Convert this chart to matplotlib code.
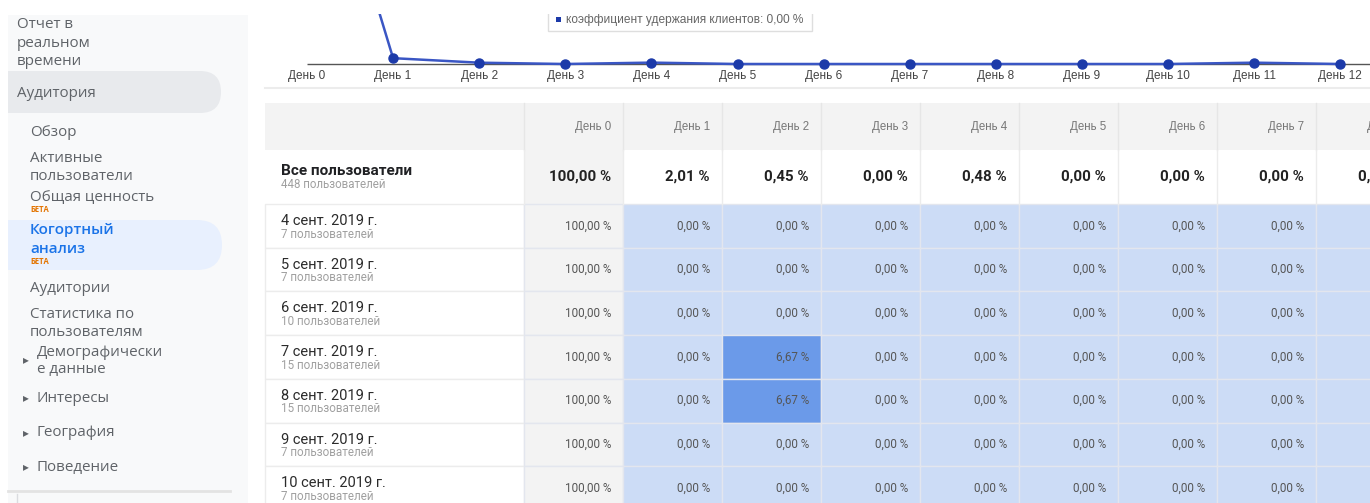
import matplotlib
matplotlib.use("Agg")
import matplotlib.pyplot as plt
from matplotlib.patches import Rectangle, FancyBboxPatch

# ---------------------------
# Data
# ---------------------------
days = list(range(13))
day_labels = ["День 0", "День 1", "День 2", "День 3", "День 4", "День 5", "День 6",
              "День 7", "День 8", "День 9", "День 10", "День 11", "День 12"]
retention_all = [100.00, 2.01, 0.45, 0.00, 0.48, 0.00, 0.00, 0.00, 0.00, 0.00, 0.00, 0.46, 0.00]

legend_label = "коэффициент удержания клиентов"
legend_value = 0.00

table_days = day_labels[:9]
total_label = "Все пользователи"
total_users = 448
total_row = [100.00, 2.01, 0.45, 0.00, 0.48, 0.00, 0.00, 0.00, 0.00]

cohort_dates = ["4 сент. 2019 г.", "5 сент. 2019 г.", "6 сент. 2019 г.", "7 сент. 2019 г.",
                "8 сент. 2019 г.", "9 сент. 2019 г.", "10 сент. 2019 г."]
cohort_users = [7, 7, 10, 15, 15, 7, 7]
cohort_values = [
    [100.00, 0.00, 0.00, 0.00, 0.00, 0.00, 0.00, 0.00, 0.00],
    [100.00, 0.00, 0.00, 0.00, 0.00, 0.00, 0.00, 0.00, 0.00],
    [100.00, 0.00, 0.00, 0.00, 0.00, 0.00, 0.00, 0.00, 0.00],
    [100.00, 0.00, 6.67, 0.00, 0.00, 0.00, 0.00, 0.00, 0.00],
    [100.00, 0.00, 6.67, 0.00, 0.00, 0.00, 0.00, 0.00, 0.00],
    [100.00, 0.00, 0.00, 0.00, 0.00, 0.00, 0.00, 0.00, 0.00],
    [100.00, 0.00, 0.00, 0.00, 0.00, 0.00, 0.00, 0.00, 0.00],
]


def pct(v):
    return f"{v:.2f}".replace(".", ",") + " %"


# ---------------------------
# Figure (pixel coordinates)
# ---------------------------
W, H = 1370, 503
fig = plt.figure(figsize=(W / 100, H / 100), dpi=100)
ax = fig.add_axes([0, 0, 1, 1])
ax.set_xlim(0, W)
ax.set_ylim(H, 0)
ax.axis("off")

SANS = ["Roboto", "DejaVu Sans"]
SIDE = ["Open Sans", "DejaVu Sans"]
grey_txt = "#5f6368"

# ---- sidebar ----
ax.add_patch(Rectangle((8, 15), 240, H - 15, fc="#f8f9fa", ec="none"))
ax.add_patch(FancyBboxPatch((-40, 71), 261, 42, boxstyle="round,pad=0,rounding_size=21",
                            fc="#e8eaed", ec="none"))
ax.add_patch(FancyBboxPatch((-40, 220), 262, 50, boxstyle="round,pad=0,rounding_size=25",
                            fc="#e8f0fe", ec="none"))
ax.add_patch(Rectangle((0, 0), 8, H, fc="white", ec="none", zorder=2))
ax.plot([8, 230], [491, 491], color="#e3e3e3", lw=2)
ax.plot([17, 17], [494, H], color="#dadce0", lw=1)

def side(x, y, s, color=grey_txt, size=10.9, weight="normal"):
    ax.text(x, y, s, ha="left", va="center", fontsize=size, color=color,
            family=SIDE, fontweight=weight)

side(17, 24, "Отчет в")
side(17, 43, "реальном")
side(17, 61, "времени")
side(17, 93, "Аудитория")
side(30, 132, "Обзор")
side(30, 158, "Активные")
side(30, 176, "пользователи")
side(30, 198, "Общая ценность")
side(30, 210, "БЕТА", color="#e37400", size=5.5, weight="bold")
side(30, 230, "Когортный", color="#1a73e8", weight="semibold")
side(30, 249, "анализ", color="#1a73e8", weight="semibold")
side(30, 261, "БЕТА", color="#e37400", size=5.5, weight="bold")
side(30, 289, "Аудитории")
side(30, 315, "Статистика по")
side(30, 333, "пользователям")
for y, s in [(352, "Демографически"), (398, "Интересы"), (433, "География"), (467, "Поведение")]:
    ax.text(23, y + (8 if y == 352 else 0), "▸", ha="left", va="center", fontsize=8.5,
            color="#5f6368", family=["DejaVu Sans"])
    side(37, y, s)
side(37, 370, "е данные")

# ---- chart panel ----
ax.add_patch(Rectangle((265, 15), W - 265, 72, fc="white", ec="none"))
ax.plot([265, W], [87.5, 87.5], color="#ececec", lw=1.5)

# tooltip / legend box
ax.add_patch(Rectangle((548, 6), 264, 25, fc="white", ec="#dedede", lw=1, zorder=3))
ax.add_patch(Rectangle((556, 17), 5, 5, fc="#1c3aa9", ec="none", zorder=4))
ax.text(566, 19.5, f"{legend_label}: {pct(legend_value)}", ha="left", va="center",
        fontsize=8.6, color="#666666", family=["Liberation Sans"], zorder=4)
ax.add_patch(Rectangle((0, 0), W, 14, fc="white", ec="none", zorder=6))

# line chart axes
x0, step, scale = 307, 86.1, 2.9
axc = fig.add_axes([265 / W, 1 - 87 / H, (W - 265) / W, (87 - 14) / H])
axc.set_xlim((265 - x0) / step, (W - x0) / step)
axc.set_ylim(-(87 - 64) / scale, (64 - 14) / scale)
axc.axis("off")
axc.patch.set_alpha(0)
axc.hlines(0, days[0], axc.get_xlim()[1], color="#555555", lw=1, zorder=1)
axc.plot(days, retention_all, color="#3a56c4", lw=1.8, marker="o", ms=6.5,
         mfc="#1c3aa9", mec="#1c3aa9", zorder=2)
for d, lab in zip(days, day_labels):
    axc.text(d, -12 / scale, lab, ha="center", va="center", fontsize=8.5,
             color="#444444", family=["Liberation Sans"])

# ---- cohort table ----
left, first_w, col_w = 265, 259, 99
header_top, header_h, total_h, row_h = 103, 47, 54, 43.7
edges = [left + first_w + i * col_w for i in range(len(table_days) + 1)]
light_blue, dark_blue, grey_bg = "#ccdcf6", "#6b9ae9", "#f3f3f3"
vmax = max(max(r[1:]) for r in cohort_values)

# header
ax.add_patch(Rectangle((left, header_top), W - left, header_h, fc=grey_bg, ec="none"))
for i, lab in enumerate(table_days):
    ax.plot([edges[i], edges[i]], [header_top, header_top + header_h], color="#e6e6e6", lw=1)
    ax.text(edges[i + 1] - 12, header_top + 24, lab, ha="right", va="center",
            fontsize=8.3, color="#777777", family=["Liberation Sans"])

# all users row
ty = header_top + header_h
ax.add_patch(Rectangle((left, ty), W - left, total_h, fc="white", ec="none"))
ax.add_patch(Rectangle((edges[0], ty), col_w, total_h, fc=grey_bg, ec="none"))
for i, v in enumerate(total_row):
    ax.plot([edges[i], edges[i]], [ty, ty + total_h], color="#ececec", lw=1)
    ax.text(edges[i + 1] - 12, ty + 27, pct(v), ha="right", va="center",
            fontsize=10.8, fontweight="bold", color="#222222", family=SANS)
ax.text(281, ty + 21, total_label, ha="left", va="center", fontsize=11,
        fontweight="bold", color="#202124", family=SANS)
ax.text(281, ty + 35, f"{total_users} пользователей", ha="left", va="center",
        fontsize=8.3, color="#a0a0a0", family=SANS)

# cohort rows
cy = ty + total_h
for r, (date, users, vals) in enumerate(zip(cohort_dates, cohort_users, cohort_values)):
    y = cy + r * row_h
    ax.add_patch(Rectangle((left, y), first_w, row_h, fc="white", ec="#ececec", lw=1))
    ax.text(281, y + 17, date, ha="left", va="center", fontsize=10.5, color="#2b2b2b", family=SANS)
    ax.text(281, y + 30, f"{users} пользователей", ha="left", va="center",
            fontsize=8.4, color="#a0a0a0", family=SANS)
    for i, v in enumerate(vals):
        if i == 0:
            fc = grey_bg
        elif v > 0:
            fc = dark_blue if v >= vmax else light_blue
        else:
            fc = light_blue
        ax.add_patch(Rectangle((edges[i], y), col_w, row_h, fc=fc, ec="#e3e6ee", lw=1))
        ax.text(edges[i + 1] - 12, y + row_h / 2, pct(v), ha="right", va="center",
                fontsize=8.4, color="#555555", family=SANS)

fig.savefig("out.png", dpi=100)
